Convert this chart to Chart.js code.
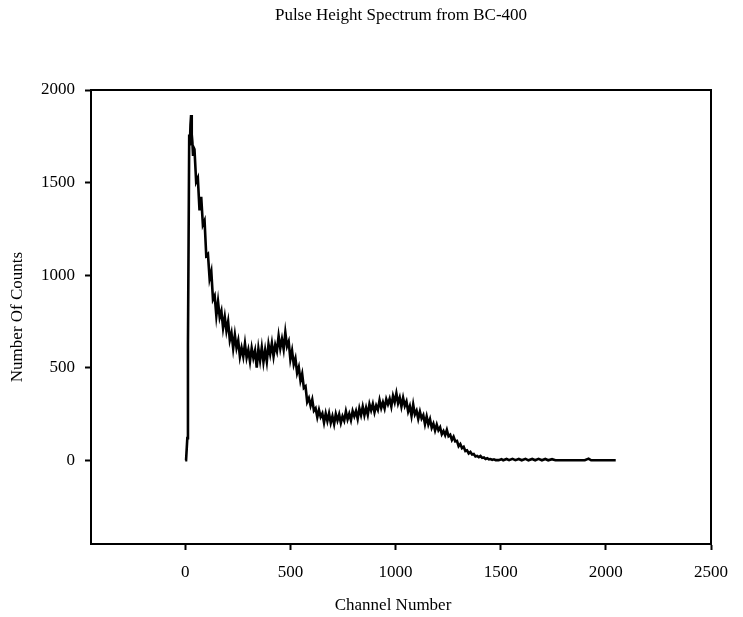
<!DOCTYPE html>
<html>
<head>
<meta charset="utf-8">
<script src="https://cdn.jsdelivr.net/npm/chart.js@4.4.1/dist/chart.umd.min.js"></script>
<style>
  html, body { margin: 0; padding: 0; background: #ffffff; }
  #c { display: block; }
</style>
</head>
<body>
<canvas id="c" width="743" height="617"></canvas>
<script>
// ---- Data ----
const chartTitle = "Pulse Height Spectrum from BC-400";
const xAxisTitle = "Channel Number";
const yAxisTitle = "Number Of Counts";
const xTickValues = [0, 500, 1000, 1500, 2000, 2500];
const yTickValues = [0, 500, 1000, 1500, 2000];

const channels = [
  0, 4, 8, 10, 13, 16, 19, 22, 25, 28, 31, 34, 37, 40,
  44, 52, 60, 68, 76, 84, 92, 100, 108, 116, 124, 132, 140, 148, 156, 164, 172, 180, 188, 196,
  204, 212, 220, 228, 236, 244, 252, 260, 268, 276, 284, 292, 300, 308, 316, 324, 332, 340, 348, 356,
  364, 372, 380, 388, 396, 404, 412, 420, 428, 436, 444, 452, 460, 468, 476, 484, 492, 500, 508, 516,
  524, 532, 540, 548, 556, 564, 572, 580, 588, 596, 604, 612, 620, 628, 636, 644, 652, 660, 668, 676,
  684, 692, 700, 708, 716, 724, 732, 740, 748, 756, 764, 772, 780, 788, 796, 804, 812, 820, 828, 836,
  844, 852, 860, 868, 876, 884, 892, 900, 908, 916, 924, 932, 940, 948, 956, 964, 972, 980, 988, 996,
  1004, 1012, 1020, 1028, 1036, 1044, 1052, 1060, 1068, 1076, 1084, 1092, 1100, 1108, 1116, 1124, 1132, 1140, 1148, 1156,
  1164, 1172, 1180, 1188, 1196, 1204, 1212, 1220, 1228, 1236, 1244, 1252, 1260, 1268, 1276, 1284, 1292, 1300, 1308, 1316,
  1324, 1332, 1340, 1348, 1356, 1364, 1372, 1380, 1388, 1396, 1404, 1412, 1420, 1428, 1436, 1444, 1452, 1460, 1468, 1476,
  1490, 1504, 1512, 1528, 1540, 1556, 1570, 1586, 1600, 1618, 1632, 1650, 1664, 1680, 1696, 1712, 1726, 1744, 1760, 1800,
  1850, 1900, 1918, 1930, 2000, 2047
];
const counts = [
  0, 0, 0, 120, 620, 1180, 1760, 1700, 1810, 1865, 1760, 1720, 1650, 1690,
  1680, 1504, 1525, 1350, 1423, 1272, 1294, 1105, 1114, 981, 1020, 869, 889, 781, 858, 772, 806, 715, 775, 700,
  750, 649, 688, 605, 678, 607, 647, 560, 607, 560, 631, 555, 596, 534, 606, 553, 592, 500, 603, 540,
  610, 531, 595, 533, 626, 574, 632, 562, 623, 589, 671, 605, 655, 600, 690, 616, 642, 545, 592, 518,
  550, 472, 503, 430, 467, 391, 400, 315, 336, 295, 328, 268, 281, 233, 272, 234, 253, 204, 253, 212,
  253, 202, 238, 196, 250, 215, 248, 202, 238, 214, 264, 221, 251, 217, 266, 238, 266, 224, 280, 244,
  290, 244, 284, 246, 303, 270, 304, 259, 296, 273, 324, 282, 313, 280, 330, 303, 332, 291, 348, 314,
  362, 308, 339, 290, 337, 294, 318, 264, 292, 240, 301, 248, 268, 224, 263, 226, 244, 195, 237, 194,
  222, 176, 198, 161, 193, 162, 178, 141, 158, 136, 164, 130, 138, 110, 127, 102, 105, 76, 88, 66,
  73, 50, 54, 37, 45, 31, 34, 21, 24, 17, 23, 13, 15, 7, 11, 5, 7, 2, 5, 1,
  1, 6, 0, 7, 1, 8, 1, 7, 0, 8, 0, 7, 0, 8, 0, 7, 0, 6, 0, 0,
  0, 0, 9, 0, 0, 0
];

const FONT = "'Liberation Serif', 'Times New Roman', serif";
const FONT_SIZE = 17;

const points = channels.map((ch, i) => ({ x: ch, y: counts[i] }));

// Draws the closed plot frame and the (serif) titles
const frameAndTitles = {
  id: 'frameAndTitles',
  afterDraw(chart) {
    const { ctx, chartArea: a } = chart;
    ctx.save();
    ctx.strokeStyle = '#000';
    ctx.lineWidth = 2;
    ctx.beginPath();
    ctx.moveTo(a.left, a.top);
    ctx.lineTo(a.right, a.top);
    ctx.lineTo(a.right, a.bottom);
    ctx.stroke();

    ctx.fillStyle = '#000';
    ctx.font = FONT_SIZE + 'px ' + FONT;
    ctx.textAlign = 'center';
    ctx.textBaseline = 'middle';
    ctx.fillText(chartTitle, (a.left + a.right) / 2, 16);
    ctx.fillText(xAxisTitle, (a.left + a.right) / 2 - 8, 606);
    ctx.translate(18, (a.top + a.bottom) / 2);
    ctx.rotate(-Math.PI / 2);
    ctx.fillText(yAxisTitle, 0, 0);
    ctx.restore();
  }
};

Chart.defaults.font.family = FONT;
Chart.defaults.font.size = FONT_SIZE;
Chart.defaults.color = '#000';

new Chart(document.getElementById('c'), {
  type: 'line',
  data: {
    datasets: [{
      data: points,
      borderColor: '#000',
      borderWidth: 2.6,
      borderJoinStyle: 'miter',
      borderCapStyle: 'butt',
      pointRadius: 0,
      tension: 0,
      fill: false
    }]
  },
  options: {
    responsive: false,
    animation: false,
    devicePixelRatio: 1,
    layout: { padding: { left: 0, right: 32, top: 90, bottom: 0 } },
    plugins: {
      legend: { display: false },
      tooltip: { enabled: false },
      title: { display: false }
    },
    scales: {
      x: {
        type: 'linear',
        min: -448,
        max: 2500,
        afterFit(scale) { scale.height = 73; },
        afterBuildTicks(scale) { scale.ticks = xTickValues.map(v => ({ value: v })); },
        ticks: { color: '#000', padding: 12, maxRotation: 0, autoSkip: false,
                 font: { family: FONT, size: FONT_SIZE }, callback: v => String(v) },
        grid: { drawOnChartArea: false, drawTicks: true, tickLength: 6, tickColor: '#000', tickWidth: 2 },
        border: { display: true, color: '#000', width: 2 }
      },
      y: {
        type: 'linear',
        min: -452,
        max: 2000,
        afterFit(scale) { scale.width = 91; },
        afterBuildTicks(scale) { scale.ticks = yTickValues.map(v => ({ value: v })); },
        ticks: { color: '#000', padding: 10, autoSkip: false,
                 font: { family: FONT, size: FONT_SIZE }, callback: v => String(v) },
        grid: { drawOnChartArea: false, drawTicks: true, tickLength: 6, tickColor: '#000', tickWidth: 2 },
        border: { display: true, color: '#000', width: 2 }
      }
    }
  },
  plugins: [frameAndTitles]
});
</script>
</body>
</html>
